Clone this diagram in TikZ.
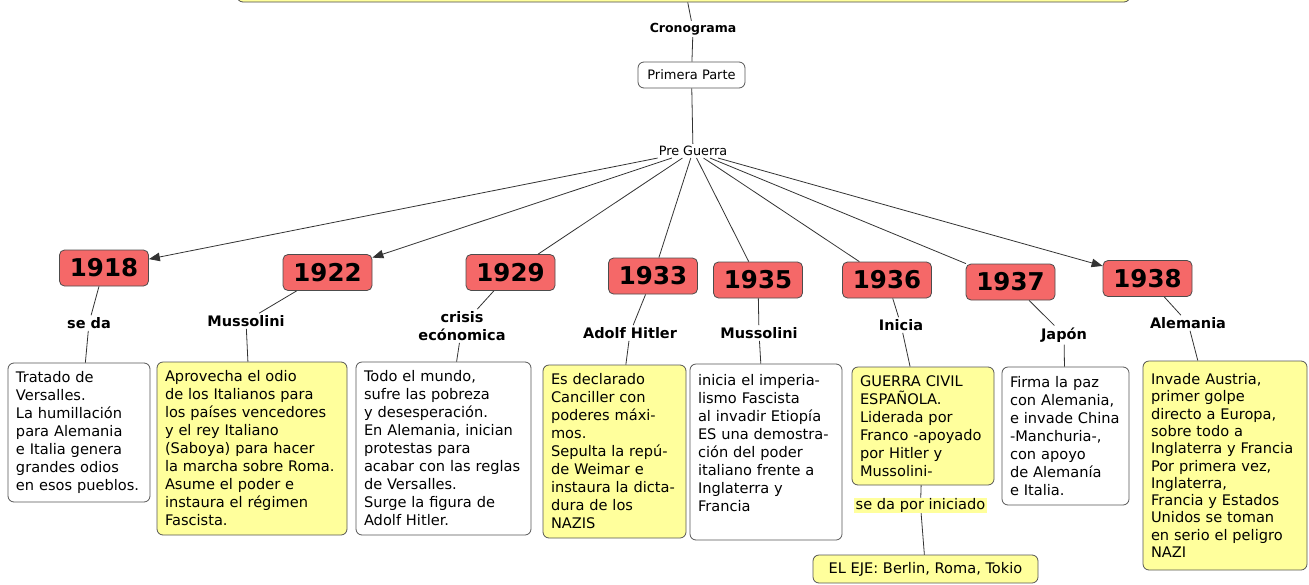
\documentclass[tikz,border=0pt]{standalone}
\usepackage{fontspec}
\setmainfont{DejaVu Sans}
\usetikzlibrary{arrows.meta}
\definecolor{boxyellow}{HTML}{FFFF9C}
\definecolor{yearred}{HTML}{F56868}
\definecolor{bordergray}{HTML}{555555}
\definecolor{linegray}{HTML}{333333}
\begin{document}
\begin{tikzpicture}[x=1pt,y=-1pt,
  conn/.style={draw=linegray,line width=0.8pt},
  arr/.style={conn,-{Triangle[length=11pt,width=8.5pt]}},
  year/.style={draw=black!70,fill=yearred,rounded corners=5pt,line width=0.8pt,minimum width=89pt,minimum height=36pt,inner sep=0pt,font=\fontsize{24.5}{26}\selectfont\bfseries},
  lbl/.style={inner sep=2pt,font=\fontsize{14.5}{18}\selectfont\bfseries,align=center},
  small/.style={inner sep=2pt,font=\fontsize{12.8}{14}\selectfont},
  txtbox/.style={draw=bordergray,rounded corners=6pt,line width=0.8pt,inner xsep=8pt,inner ysep=4pt,align=left,font=\fontsize{14.6}{18}\selectfont},
  wbox/.style={txtbox,fill=white},
  ybox/.style={txtbox,fill=boxyellow},
]
\useasboundingbox (0,0) rectangle (1309,584);
\clip (0,0) rectangle (1309,584);

% top part
\node[draw=black!70,fill=boxyellow,rounded corners=6pt,line width=0.8pt,minimum width=893pt,minimum height=42pt] (top) at (683.5,-19) {};
\node[small,font=\fontsize{12.5}{14}\selectfont\bfseries] (crono) at (693,29) {Cronograma};
\node[small,draw=bordergray,fill=white,rounded corners=6pt,line width=0.8pt,minimum width=107pt,minimum height=26pt,font=\fontsize{13}{14}\selectfont] (pp) at (691.5,75) {Primera Parte};
\node[small] (pre) at (693,151) {Pre Guerra};

% years
\node[year] (y1918) at (104,268) {1918};
\node[year] (y1922) at (327.5,272.5) {1922};
\node[year] (y1929) at (510.5,272.5) {1929};
\node[year] (y1933) at (653,276) {1933};
\node[year] (y1935) at (758,280) {1935};
\node[year] (y1936) at (887,280) {1936};
\node[year] (y1937) at (1010.5,282) {1937};
\node[year] (y1938) at (1147.5,278.5) {1938};

% labels
\node[lbl] (l1) at (89,323) {se da};
\node[lbl] (l2) at (246,321) {Mussolini};
\node[lbl] (l3) at (462,326) {crisis\\ecónomica};
\node[lbl] (l4) at (630,333) {Adolf Hitler};
\node[lbl] (l5) at (759,333) {Mussolini};
\node[lbl] (l6) at (901,325) {Inicia};
\node[lbl] (l7) at (1064,335) {Japón};
\node[lbl] (l8) at (1188,323) {Alemania};

% content boxes
\node[wbox,text width=126pt,minimum height=139pt] (b1) at (79,432.5) {Tratado de\\Versalles.\\La humillación\\para Alemania\\e Italia genera\\grandes odios\\en esos pueblos.};
\node[ybox,text width=174pt,minimum height=173pt] (b2) at (252,448.5) {Aprovecha el odio\\de los Italianos para\\los países vencedores\\y el rey Italiano\\(Saboya) para hacer\\la marcha sobre Roma.\\Asume el poder e\\instaura el régimen\\Fascista.};
\node[wbox,text width=159pt,minimum height=173pt] (b3) at (443.5,448.5) {Todo el mundo,\\sufre las pobreza\\y desesperación.\\En Alemania, inician\\protestas para\\acabar con las reglas\\de Versalles.\\Surge la figura de\\Adolf Hitler.};
\node[ybox,text width=127pt,minimum height=173pt] (b4) at (614.5,451.5) {Es declarado\\Canciller con\\poderes máxi-\\mos.\\Sepulta la repú-\\de Weimar e\\instaura la dicta-\\dura de los\\NAZIS};
\node[wbox,text width=136pt,minimum height=176pt] (b5) at (766,452) {inicia el imperia-\\lismo Fascista\\al invadir Etiopía\\ES una demostra-\\ción del poder\\italiano frente a\\Inglaterra y\\Francia\\\mbox{}};
\node[ybox,text width=126pt,minimum height=118pt] (b6) at (923,426) {GUERRA CIVIL\\ESPAÑOLA.\\Liderada por\\Franco -apoyado\\por Hitler y\\Mussolini-};
\node[wbox,text width=111pt,minimum height=138pt] (b7) at (1065.5,436) {Firma la paz\\con Alemania,\\e invade China\\-Manchuria-,\\con apoyo\\de Alemanía\\e Italia.};
\node[ybox,text width=148pt,minimum height=209pt,font=\fontsize{14.6}{17.3}\selectfont] (b8) at (1225,465.5) {Invade Austria,\\primer golpe\\directo a Europa,\\sobre todo a\\Inglaterra y Francia\\Por primera vez,\\Inglaterra,\\Francia y Estados\\Unidos se toman\\en serio el peligro\\NAZI};

\node[fill=boxyellow,inner xsep=2pt,inner ysep=0.5pt,font=\fontsize{14.6}{18}\selectfont] (sdpi) at (920.5,505.5) {se da por iniciado};
\node[ybox,minimum width=225pt,minimum height=28pt,inner ysep=2pt] (eje) at (925.5,569) {EL EJE: Berlin, Roma, Tokio};

% connectors top
\draw[conn] (top) -- (crono);
\draw[conn] (crono) -- (pp);
\draw[conn] (pp) -- (pre);

% fan
\draw[arr] (pre) -- (y1918);
\draw[arr] (pre) -- (y1922);
\draw[conn] (pre) -- (y1929);
\draw[conn] (pre) -- (y1933);
\draw[conn] (pre) -- (y1935);
\draw[conn] (pre) -- (y1936);
\draw[conn] (pre) -- (y1937);
\draw[arr] (pre) -- (y1938);

% year -> label -> box
\draw[conn] (y1918) -- (l1);
\draw[conn] (l1) -- (b1);
\draw[conn] (y1922) -- (l2);
\draw[conn] (l2) -- (b2);
\draw[conn] (y1929) -- (l3);
\draw[conn] (l3) -- (b3);
\draw[conn] (y1933) -- (l4);
\draw[conn] (l4) -- (b4);
\draw[conn] (y1935) -- (l5);
\draw[conn] (l5) -- (b5);
\draw[conn] (y1936) -- (l6);
\draw[conn] (l6) -- (b6);
\draw[conn] (b6) -- (sdpi);
\draw[conn] (sdpi) -- (eje);
\draw[conn] (y1937) -- (l7);
\draw[conn] (l7) -- (b7);
\draw[conn] (y1938) -- (l8);
\draw[conn] (l8) -- (b8);
\end{tikzpicture}
\end{document}
